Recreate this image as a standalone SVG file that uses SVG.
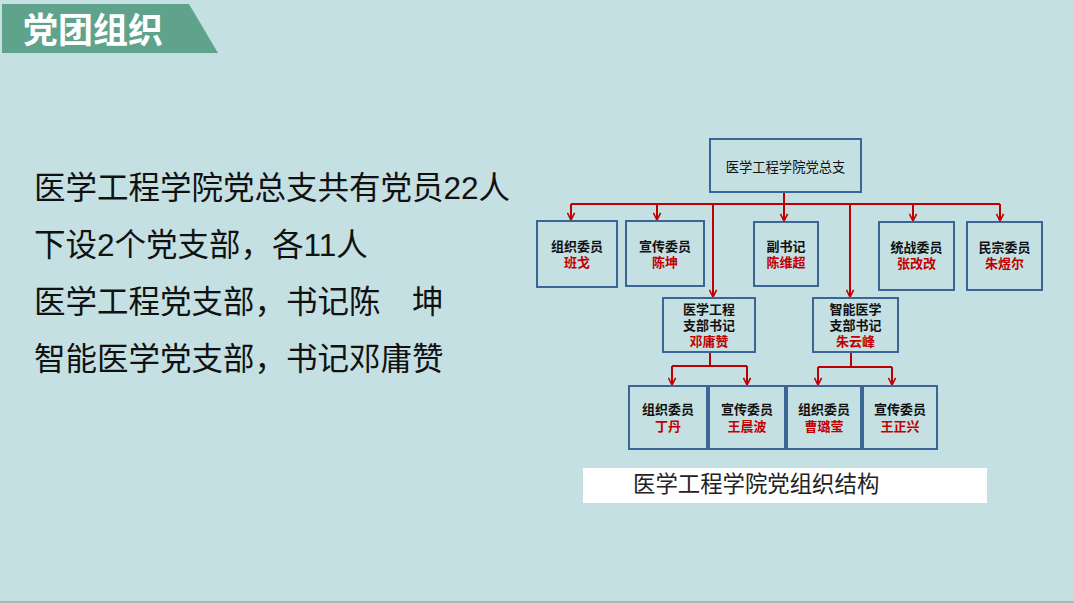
<svg xmlns="http://www.w3.org/2000/svg" width="1074" height="603" viewBox="0 0 1074 603">
<style>
.bg{fill:#c5e0e3}
.box{fill:none;stroke:#3b6596;stroke-width:2}
.lbl{font-family:"Liberation Sans","Noto Sans CJK SC",sans-serif;font-size:13px;font-weight:bold;fill:#111;text-anchor:middle}
.nm{font-family:"Liberation Sans","Noto Sans CJK SC",sans-serif;font-size:13px;font-weight:bold;fill:#c00000;text-anchor:middle}
.big{font-family:"Liberation Sans","Noto Sans CJK SC",sans-serif;font-size:31.5px;fill:#111}
.con{fill:none;stroke:#c00000;stroke-width:2}
</style>
<defs>
<marker id="arr" viewBox="0 0 10 10" refX="9" refY="5" markerWidth="9" markerHeight="9" markerUnits="userSpaceOnUse" orient="auto">
<path d="M1,1 L9,5 L1,9" fill="none" stroke="#c00000" stroke-width="1.8"/>
</marker>
</defs>
<rect class="bg" x="0" y="0" width="1074" height="603"/>
<rect x="0" y="601" width="1074" height="2" fill="#b4b4b4"/>
<g id="header">
<polygon points="2,4 189,4 218,53 2,53" fill="#5fa38c"/>
<text x="23" y="43" font-family="Liberation Sans,Noto Sans CJK SC,sans-serif" font-size="35" font-weight="bold" fill="#ffffff">党团组织</text>
</g>
<g id="summary">
<text class="big" x="34" y="199">医学工程学院党总支共有党员22人</text>
<text class="big" x="34" y="256">下设2个党支部，各11人</text>
<text class="big" x="34" y="313" xml:space="preserve">医学工程党支部，书记陈　坤</text>
<text class="big" x="34" y="370">智能医学党支部，书记邓庸赞</text>
</g>
<g id="connectors">
<path class="con" d="M571,204 H1000"/>
<path class="con" d="M784,192 V221" marker-end="url(#arr)"/>
<path class="con" d="M571,204 V220" marker-end="url(#arr)"/>
<path class="con" d="M657,204 V220" marker-end="url(#arr)"/>
<path class="con" d="M913,204 V221" marker-end="url(#arr)"/>
<path class="con" d="M1000,204 V221" marker-end="url(#arr)"/>
<path class="con" d="M713,204 V297" marker-end="url(#arr)"/>
<path class="con" d="M850,204 V297" marker-end="url(#arr)"/>
<path class="con" d="M710,352 V366 M672,366 H747"/>
<path class="con" d="M672,366 V385" marker-end="url(#arr)"/>
<path class="con" d="M747,366 V385" marker-end="url(#arr)"/>
<path class="con" d="M851,352 V367 M818,367 H892"/>
<path class="con" d="M818,367 V385" marker-end="url(#arr)"/>
<path class="con" d="M892,367 V385" marker-end="url(#arr)"/>
</g>
<g id="root">
<rect class="box" x="710" y="139" width="151" height="53"/>
<text class="lbl" x="785.5" y="172" style="font-weight:normal;font-size:13.3px">医学工程学院党总支</text>
</g>
<g id="n-zuzhi">
<rect class="box" x="537" y="221" width="80" height="66"/>
<text class="lbl" x="577" y="251">组织委员</text>
<text class="nm" x="577" y="267">班戈</text>
</g>
<g id="n-xuanchuan">
<rect class="box" x="626" y="221" width="78" height="65"/>
<text class="lbl" x="665" y="251">宣传委员</text>
<text class="nm" x="665" y="267">陈坤</text>
</g>
<g id="n-fushuji">
<rect class="box" x="754" y="222" width="64" height="64"/>
<text class="lbl" x="786" y="251">副书记</text>
<text class="nm" x="786" y="267">陈维超</text>
</g>
<g id="n-tongzhan">
<rect class="box" x="879" y="222" width="75" height="68"/>
<text class="lbl" x="916.5" y="252">统战委员</text>
<text class="nm" x="916.5" y="268">张改改</text>
</g>
<g id="n-minzong">
<rect class="box" x="967" y="222" width="75" height="68"/>
<text class="lbl" x="1004.5" y="252">民宗委员</text>
<text class="nm" x="1004.5" y="268">朱煜尔</text>
</g>
<g id="b-yixue">
<rect class="box" x="663" y="298" width="92" height="54"/>
<text class="lbl" x="709" y="314">医学工程</text>
<text class="lbl" x="709" y="330">支部书记</text>
<text class="nm" x="709" y="346">邓庸赞</text>
</g>
<g id="b-zhineng">
<rect class="box" x="813" y="298" width="85" height="54"/>
<text class="lbl" x="855.5" y="314">智能医学</text>
<text class="lbl" x="855.5" y="330">支部书记</text>
<text class="nm" x="855.5" y="346">朱云峰</text>
</g>
<g id="c1">
<rect class="box" x="629" y="386" width="78" height="63"/>
<text class="lbl" x="668" y="414">组织委员</text>
<text class="nm" x="668" y="431">丁丹</text>
</g>
<g id="c2">
<rect class="box" x="709" y="386" width="76" height="63"/>
<text class="lbl" x="747" y="414">宣传委员</text>
<text class="nm" x="747" y="431">王晨波</text>
</g>
<g id="c3">
<rect class="box" x="787" y="386" width="74" height="63"/>
<text class="lbl" x="824" y="414">组织委员</text>
<text class="nm" x="824" y="431">曹璐莹</text>
</g>
<g id="c4">
<rect class="box" x="863" y="386" width="74" height="63"/>
<text class="lbl" x="900" y="414">宣传委员</text>
<text class="nm" x="900" y="431">王正兴</text>
</g>
<g id="caption">
<rect x="583" y="468" width="404" height="35" fill="#ffffff"/>
<text x="633" y="492" font-family="Liberation Serif,Noto Sans CJK SC,serif" font-size="22.4" fill="#222">医学工程学院党组织结构</text>
</g>
</svg>
